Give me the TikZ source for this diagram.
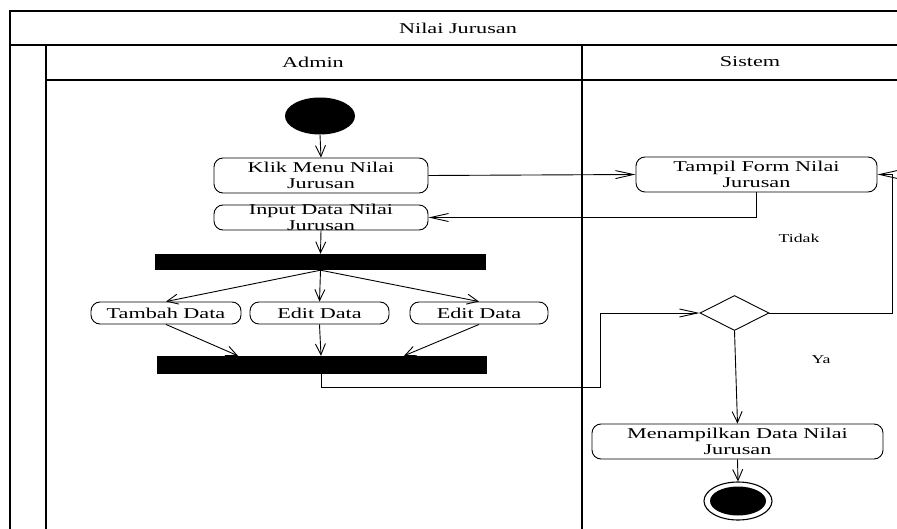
\documentclass[tikz,border=0pt]{standalone}
\usepackage{fontspec}
\setmainfont{Liberation Serif}[FakeStretch=1.48]
\usetikzlibrary{arrows.meta,shapes.geometric}
\begin{document}
\begin{tikzpicture}[x=1pt,y=-1pt,
  frame/.style={line width=1.3pt},
  abox/.style={draw,rounded corners=9pt,line width=0.9pt,inner sep=0pt},
  btxt/.style={font=\fontsize{15}{16}\selectfont,align=center,inner sep=0pt},
  hdr/.style={font=\fontsize{15}{16}\selectfont,inner sep=0pt},
  lbl/.style={font=\fontsize{12}{13}\selectfont,inner sep=0pt},
  bar/.style={fill=black,draw=none,inner sep=0pt},
  flow/.style={line width=0.9pt,-{Straight Barb[length=11pt,width=10pt,line width=0.9pt]}},
  flowh/.style={line width=0.9pt,-{Straight Barb[length=18pt,width=8pt,line width=0.9pt]}},
  plain/.style={line width=0.9pt}]
\useasboundingbox (0,0) rectangle (897,529);
% swimlane frame
\draw[frame] (10,529) -- (10,11) -- (897,11);
\draw[frame] (10,45) -- (897,45);
\draw[frame] (46,80) -- (897,80);
\draw[frame] (46,45) -- (46,529);
\draw[frame] (582,45) -- (582,529);
\node[hdr] (title) at (458,28) {Nilai Jurusan};
\node[hdr] (admin) at (313,62) {Admin};
\node[hdr] (sistem) at (750,62) {Sistem};
% nodes
\node[fill=black,ellipse,minimum width=70pt,minimum height=37pt,inner sep=0pt] (start) at (320,116) {};
\node[abox,minimum width=214pt,minimum height=35pt] (klik) at (321,175.5) {};
\node[btxt] at (klik) {Klik Menu Nilai\\Jurusan};
\node[abox,minimum width=214pt,minimum height=25pt] (input) at (321,217.5) {};
\node[btxt] at (input) {Input Data Nilai\\Jurusan};
\node[bar,minimum width=331pt,minimum height=16pt] (fork) at (320.5,262) {};
\node[abox,minimum width=150pt,minimum height=22pt] (tambah) at (166,313) {};
\node[btxt] at (tambah) {Tambah Data};
\node[abox,minimum width=139pt,minimum height=22pt] (edit1) at (319.5,313) {};
\node[btxt] at (edit1) {Edit Data};
\node[abox,minimum width=138pt,minimum height=22pt] (edit2) at (479,313) {};
\node[btxt] at (edit2) {Edit Data};
\node[bar,minimum width=330pt,minimum height=18pt] (join) at (322,365) {};
\node[abox,minimum width=241pt,minimum height=35pt] (tampil) at (756.5,174.5) {};
\node[btxt] at (tampil) {Tampil Form Nilai\\Jurusan};
\node[draw,diamond,line width=0.9pt,minimum width=69pt,minimum height=35pt,inner sep=0pt] (dec) at (734.5,313) {};
\node[abox,minimum width=291pt,minimum height=35pt] (tampilkan) at (737.5,441.5) {};
\node[btxt] at (tampilkan) {Menampilkan Data Nilai\\Jurusan};
\node[draw,ellipse,line width=1.1pt,minimum width=68pt,minimum height=38pt,inner sep=0pt] (endo) at (738,501) {};
\node[fill=black,ellipse,minimum width=56pt,minimum height=29pt,inner sep=0pt] (endi) at (738,501) {};
\node[lbl] (tidak) at (799,238) {Tidak};
\node[lbl] (ya) at (821,360) {Ya};
% connectors
\draw[flow] (start.south) -- (klik.north);
\draw[flowh] (klik.east) -- (tampil.west);
\draw[flowh] (tampil.south) |- (input.east);
\draw[flow] (input.south) -- (fork.north);
\draw[flow] (fork.south) -- (tambah.north);
\draw[flow] (fork.south) -- (edit1.north);
\draw[flow] (fork.south) -- (edit2.north);
\draw[flow] (tambah.south) -- (join.north -| 238,0);
\draw[flow] (edit1.south) -- (join.north -| 321,0);
\draw[flow] (edit2.south) -- (join.north -| 404,0);
\coordinate (c1) at (321,387);
\coordinate (c2) at (600,387);
\draw[flowh] (join.south -| c1) -- (c1) -- (c2) |- (dec.west);
\coordinate (c3) at (892,313);
\draw[flowh] (dec.east) -- (c3) |- (tampil.east);
\draw[flow] (dec.south) -- (tampilkan.north);
\draw[flow] (tampilkan.south) -- (endo.north);
\end{tikzpicture}
\end{document}
